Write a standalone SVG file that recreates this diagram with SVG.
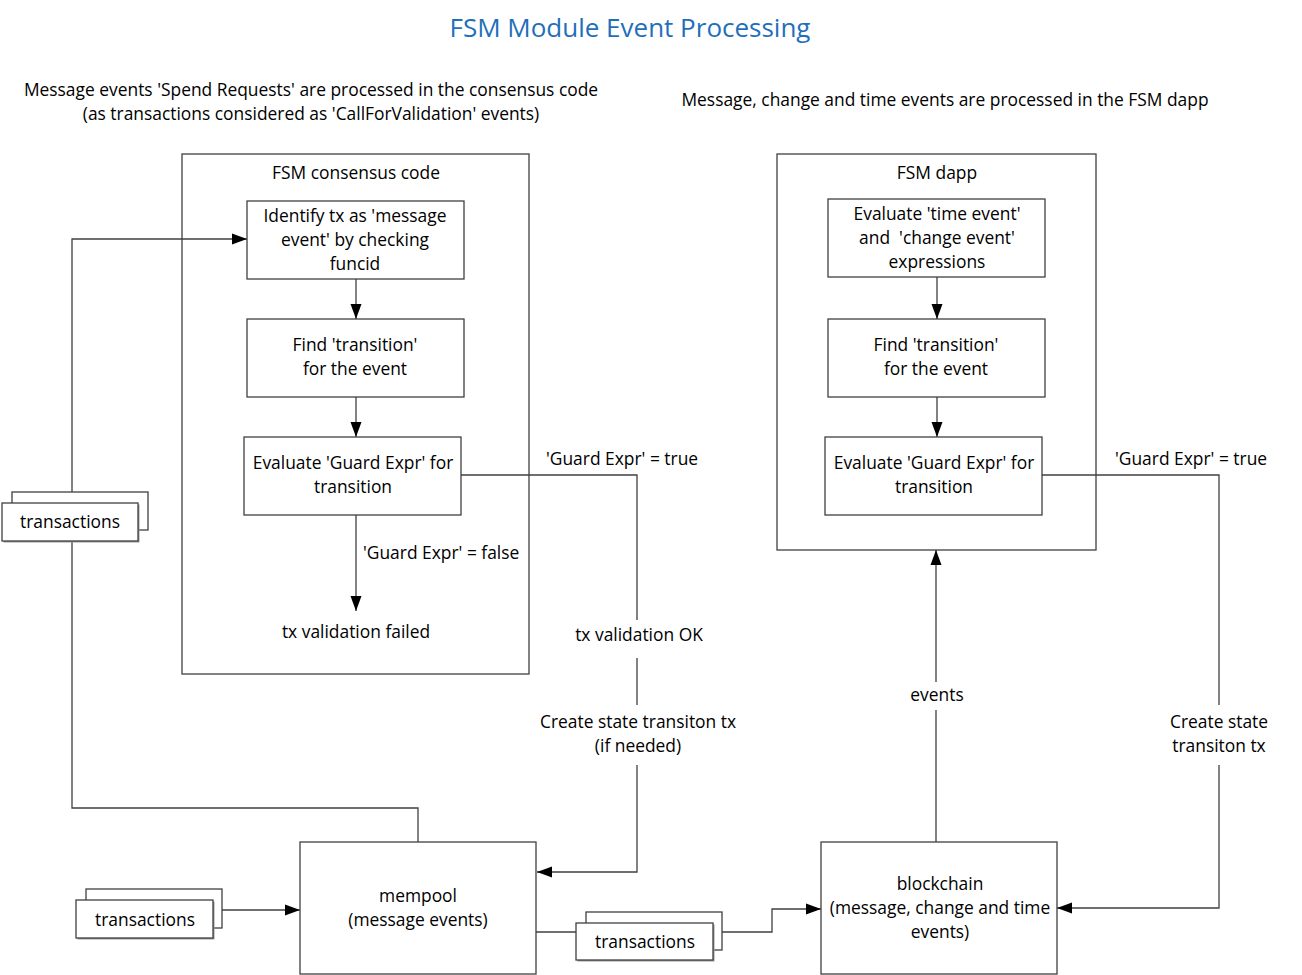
<svg xmlns="http://www.w3.org/2000/svg" width="1302" height="975" viewBox="0 0 1302 975">
<defs>
<style>
.t{font-family:"Open Sans","Noto Sans","Liberation Sans",sans-serif;font-size:17.4px;fill:#000;text-anchor:middle}
.l{text-anchor:start}
.title{font-family:"Open Sans","Noto Sans","Liberation Sans",sans-serif;font-size:26px;fill:#1f6fba;text-anchor:middle}
.box{fill:#fff;stroke:#404040;stroke-width:1.3}
.c{fill:none;stroke:#404040;stroke-width:1.3}
.sh{fill:#999}
</style>
<marker id="ah" markerUnits="userSpaceOnUse" markerWidth="16" markerHeight="12" refX="15" refY="6" orient="auto">
<path d="M0,0.5 L15,6 L0,11.5 z" fill="#000"/>
</marker>
</defs>
<rect width="1302" height="975" fill="#fff"/>
<text class="title" x="630" y="37">FSM Module Event Processing</text>
<text class="t" x="311" y="96">Message events 'Spend Requests' are processed in the consensus code</text>
<text class="t" x="311" y="120">(as transactions considered as 'CallForValidation' events)</text>
<text class="t" x="945" y="106">Message, change and time events are processed in the FSM dapp</text>

<g id="consensus">
<rect class="box" x="182" y="154" width="347" height="520"/>
<text class="t" x="356" y="179">FSM consensus code</text>
</g>
<g id="dapp">
<rect class="box" x="777" y="154" width="319" height="396"/>
<text class="t" x="937" y="179">FSM dapp</text>
</g>

<g id="connectors">
<path class="c" d="M356,279 V319" marker-end="url(#ah)"/>
<path class="c" d="M356,397 V437" marker-end="url(#ah)"/>
<path class="c" d="M356,515 V611" marker-end="url(#ah)"/>
<path class="c" d="M461,475 H637 V620"/>
<path class="c" d="M637,658 V705"/>
<path class="c" d="M637,765 V872 H537" marker-end="url(#ah)"/>
<path class="c" d="M72,492 V239 H247" marker-end="url(#ah)"/>
<path class="c" d="M72,541 V808 H418 V842"/>
<path class="c" d="M222,910 H300" marker-end="url(#ah)"/>
<path class="c" d="M536,932 H576"/>
<path class="c" d="M722,932 H772 V909 H821" marker-end="url(#ah)"/>
<path class="c" d="M936,842 V710"/>
<path class="c" d="M936,682 V550" marker-end="url(#ah)"/>
<path class="c" d="M937,277 V319" marker-end="url(#ah)"/>
<path class="c" d="M937,397 V437" marker-end="url(#ah)"/>
<path class="c" d="M1042,475 H1219 V705"/>
<path class="c" d="M1219,765 V908 H1057" marker-end="url(#ah)"/>
<text class="t l" x="546" y="465">'Guard Expr' = true</text>
<text class="t l" x="363" y="559">'Guard Expr' = false</text>
<text class="t" x="639" y="641">tx validation OK</text>
<text class="t" x="638" y="728">Create state transiton tx</text>
<text class="t" x="638" y="752">(if needed)</text>
<text class="t" x="937" y="701">events</text>
<text class="t l" x="1115" y="465">'Guard Expr' = true</text>
<text class="t" x="1219" y="728">Create state</text>
<text class="t" x="1219" y="752">transiton tx</text>
</g>

<g id="identify">
<rect class="box" x="247" y="201" width="217" height="78"/>
<text class="t" x="355" y="222">Identify tx as 'message</text>
<text class="t" x="355" y="246">event' by checking</text>
<text class="t" x="355" y="270">funcid</text>
</g>
<g id="find1">
<rect class="box" x="247" y="319" width="217" height="78"/>
<text class="t" x="355" y="351">Find 'transition'</text>
<text class="t" x="355" y="375">for the event</text>
</g>
<g id="guard1">
<rect class="box" x="244" y="437" width="217" height="78"/>
<text class="t" x="353" y="469">Evaluate 'Guard Expr' for</text>
<text class="t" x="353" y="493">transition</text>
</g>
<g id="failed">
<text class="t" x="356" y="638">tx validation failed</text>
</g>

<g id="evaluate">
<rect class="box" x="828" y="199" width="217" height="78"/>
<text class="t" x="937" y="220">Evaluate 'time event'</text>
<text class="t" x="937" y="244" xml:space="preserve">and  'change event'</text>
<text class="t" x="937" y="268">expressions</text>
</g>
<g id="find2">
<rect class="box" x="828" y="319" width="217" height="78"/>
<text class="t" x="936" y="351">Find 'transition'</text>
<text class="t" x="936" y="375">for the event</text>
</g>
<g id="guard2">
<rect class="box" x="825" y="437" width="217" height="78"/>
<text class="t" x="934" y="469">Evaluate 'Guard Expr' for</text>
<text class="t" x="934" y="493">transition</text>
</g>

<g id="tx-left">
<rect class="box" x="12" y="492" width="136" height="38"/>
<rect class="sh" x="3.5" y="504.5" width="136" height="38"/>
<rect class="box" x="2" y="503" width="136" height="38"/>
<text class="t" x="70" y="528">transactions</text>
</g>
<g id="tx-bottom">
<rect class="box" x="86" y="889" width="136" height="39"/>
<rect class="sh" x="77.5" y="901.5" width="137" height="38"/>
<rect class="box" x="76" y="900" width="137" height="38"/>
<text class="t" x="145" y="926">transactions</text>
</g>
<g id="tx-mid">
<rect class="box" x="586" y="912" width="136" height="38"/>
<rect class="sh" x="577.5" y="924.5" width="137" height="37"/>
<rect class="box" x="576" y="923" width="137" height="37"/>
<text class="t" x="645" y="948">transactions</text>
</g>

<g id="mempool">
<rect class="box" x="300" y="842" width="236" height="132"/>
<text class="t" x="418" y="902">mempool</text>
<text class="t" x="418" y="926">(message events)</text>
</g>
<g id="blockchain">
<rect class="box" x="821" y="842" width="236" height="132"/>
<text class="t" x="940" y="890">blockchain</text>
<text class="t" x="940" y="914">(message, change and time</text>
<text class="t" x="940" y="938">events)</text>
</g>
</svg>
